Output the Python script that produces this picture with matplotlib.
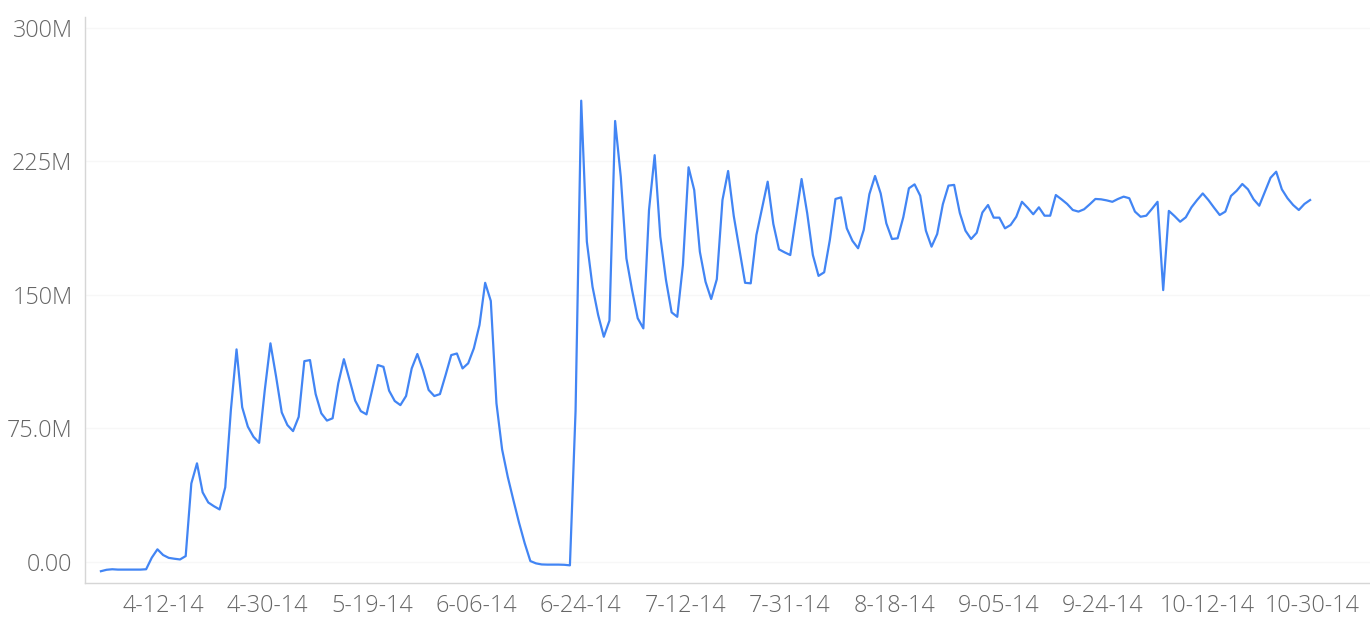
import numpy as np
import matplotlib.pyplot as plt

# Valores diarios (millones): 4/01/14 .. 11/01/14
valores = [
    -5.3, -4.5, -4.2, -4.4, -4.4, -4.4, -4.4, -4.4, -4.2, 2.3,
    7.0, 3.8, 2.2, 1.7, 1.3, 3.2, 44.0, 55.3, 39.0, 33.3,
    31.2, 29.4, 41.8, 85.3, 119.3, 86.8, 75.9, 70.2, 66.8, 96.5,
    122.7, 104.0, 83.9, 76.8, 73.4, 81.4, 112.7, 113.3, 94.2, 83.4,
    79.3, 80.6, 100.2, 113.8, 102.1, 90.5, 84.6, 82.8, 96.5, 110.5,
    109.5, 96.1, 90.3, 88.0, 93.1, 108.6, 116.7, 107.7, 96.5, 93.1,
    94.2, 104.9, 116.1, 117.0, 108.6, 111.5, 119.9, 133.0, 156.7, 146.5,
    89.0, 63.1, 47.7, 34.6, 21.9, 10.4, 0.4, -0.9, -1.5, -1.6,
    -1.6, -1.6, -1.7, -2.0, 84.7, 259.0, 179.8, 154.5, 138.6, 126.4,
    135.5, 247.6, 216.3, 170.4, 152.6, 136.8, 131.1, 197.6, 228.4, 182.6,
    158.3, 140.1, 137.6, 166.7, 221.6, 208.8, 174.1, 157.3, 147.6, 158.7,
    203.2, 219.5, 194.2, 175.5, 156.7, 156.4, 183.5, 198.5, 213.5, 189.8,
    175.5, 173.8, 172.3, 193.8, 215.0, 195.7, 172.3, 160.6, 162.6, 180.7,
    203.8, 204.7, 187.3, 180.3, 176.1, 186.4, 206.5, 216.7, 206.9, 190.1,
    181.3, 181.7, 193.5, 209.8, 212.0, 205.6, 186.0, 177.0, 184.1, 200.8,
    211.3, 211.7, 196.0, 186.0, 181.3, 184.8, 196.2, 200.4, 193.3, 193.3,
    187.3, 189.2, 193.8, 202.2, 198.9, 195.2, 199.1, 194.4, 194.4, 206.0,
    203.6, 201.0, 197.6, 196.7, 198.0, 200.8, 203.8, 203.6, 203.0, 202.2,
    203.8, 205.1, 204.2, 196.7, 193.8, 194.4, 198.2, 202.2, 152.6, 197.1,
    194.2, 191.0, 193.5, 199.1, 203.2, 206.9, 203.2, 198.9, 194.8, 196.7,
    205.5, 208.4, 212.2, 209.2, 203.6, 200.0, 207.9, 215.7, 219.1, 209.2,
    204.2, 200.4, 197.6, 201.0, 203.2,
]
dias = np.arange(len(valores))

etiquetas_x = ["4-12-14", "4-30-14", "5-19-14", "6-06-14", "6-24-14", "7-12-14",
               "7-31-14", "8-18-14", "9-05-14", "9-24-14", "10-12-14", "10-30-14"]
ticks_y = [0, 75, 150, 225, 300]
etiquetas_y = ["0.00", "75.0M", "150M", "225M", "300M"]

plt.rcParams['font.family'] = ['Open Sans', 'DejaVu Sans']

fig = plt.figure(figsize=(13.7, 6.17), dpi=100)
ax = fig.add_axes([0.062, 0.0546, 0.938, 0.9184])

ax.plot(dias, valores, color="#4285f4", linewidth=1.6)

ax.set_xlim(-2.83, 224.6)
ax.set_ylim(-12.1, 306.2)

ax.set_xticks(np.linspace(11.0, 214.3, len(etiquetas_x)))
ax.set_xticklabels(etiquetas_x)
ax.set_yticks(ticks_y)
ax.set_yticklabels(etiquetas_y)

ax.tick_params(axis="both", length=0, labelsize=16.8, colors="#666666")
ax.tick_params(axis="x", pad=8)
ax.tick_params(axis="y", pad=9)
for t in ax.get_xticklabels() + ax.get_yticklabels():
    t.set_fontweight("light")

ax.grid(axis="y", color="#f7f7f7", linewidth=1)
ax.set_axisbelow(True)
for lado in ["top", "right"]:
    ax.spines[lado].set_visible(False)
for lado in ["left", "bottom"]:
    ax.spines[lado].set_color("#d6d6d6")
    ax.spines[lado].set_linewidth(1)

fig.savefig("out.png", dpi=100)
